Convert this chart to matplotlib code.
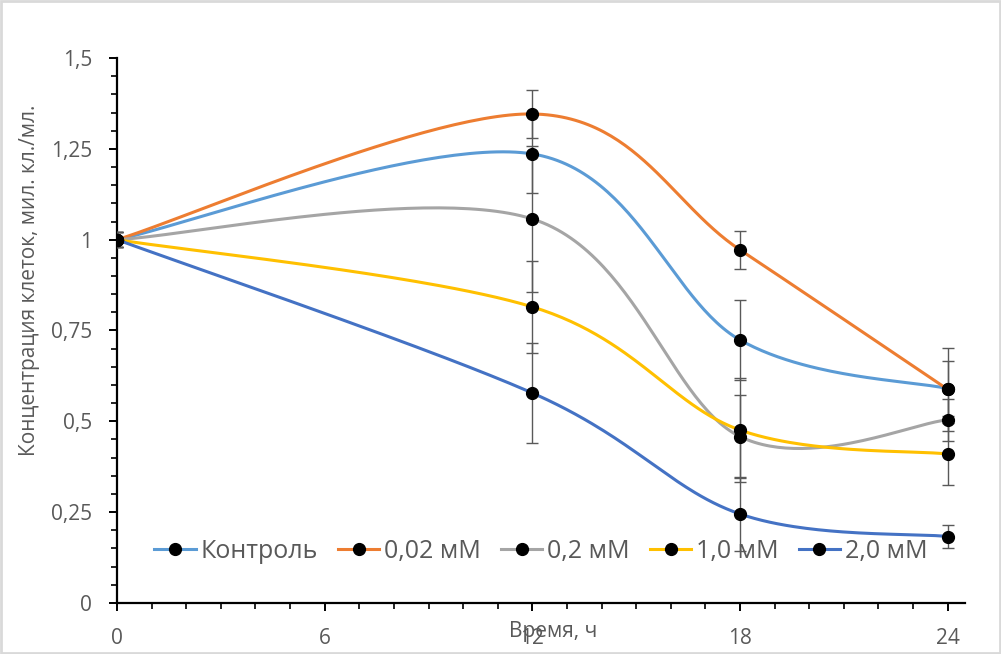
import numpy as np
import matplotlib
matplotlib.use("Agg")
import matplotlib.pyplot as plt
from matplotlib.ticker import MultipleLocator, FuncFormatter
from matplotlib.patches import Rectangle

plt.rcParams['font.family'] = ['Open Sans', 'DejaVu Sans']

# data
hours = [0, 12, 18, 24]
labels = ['Контроль', '0,02 мМ', '0,2 мМ', '1,0 мМ', '2,0 мМ']
control = [1.0, 1.236, 0.724, 0.590]
c002 = [1.0, 1.346, 0.972, 0.588]
c02 = [1.0, 1.057, 0.458, 0.504]
c10 = [1.0, 0.815, 0.476, 0.410]
c20 = [1.0, 0.578, 0.245, 0.183]
err_control = [0.02, 0.108, 0.110, 0.075]
err_c002 = [0.02, 0.065, 0.053, 0.115]
err_c02 = [0.02, 0.200, 0.115, 0.057]
err_c10 = [0.02, 0.127, 0.142, 0.086]
err_c20 = [0.02, 0.137, 0.102, 0.031]

series = [control, c002, c02, c10, c20]
errors = [err_control, err_c002, err_c02, err_c10, err_c20]
colors = ['#5B9BD5', '#ED7D31', '#A5A5A5', '#FFC000', '#4472C4']

TXT = '#595959'


def smooth(xs, ys, n=60):
    # excel-like smoothed line: bezier segments, catmull-rom control points
    pts = np.column_stack([xs, ys]).astype(float)
    out = []
    for i in range(len(pts) - 1):
        p0 = pts[max(i - 1, 0)]
        p1 = pts[i]
        p2 = pts[i + 1]
        p3 = pts[min(i + 2, len(pts) - 1)]
        c1 = p1 + (p2 - p0) / 6.0
        c2 = p2 - (p3 - p1) / 6.0
        t = np.linspace(0, 1, n)[:, None]
        seg = ((1 - t) ** 3) * p1 + 3 * ((1 - t) ** 2) * t * c1 \
            + 3 * (1 - t) * t ** 2 * c2 + t ** 3 * p2
        out.append(seg if i == 0 else seg[1:])
    out = np.vstack(out)
    return out[:, 0], out[:, 1]


fig = plt.figure(figsize=(10.01, 6.54), dpi=100)
ax = fig.add_axes([0.1169, 0.078, 0.8471, 0.8333])

handles = []
for ys, es, col, lab in zip(series, errors, colors, labels):
    sx, sy = smooth(hours, ys)
    ax.plot(sx, sy, color=col, lw=2.2, zorder=2, solid_capstyle='round')
    ax.errorbar(hours, ys, yerr=es, fmt='none', ecolor='#595959',
                elinewidth=1.0, capsize=4.5, capthick=1.0, zorder=3)
    ax.plot(hours, ys, 'o', color='black', ms=8.5, zorder=4)
    h, = ax.plot([], [], color=col, lw=2.2, marker='o', mfc='black',
                 mec='black', ms=8.5)
    handles.append(h)

ax.set_xlim(0, 24.5)
ax.set_ylim(0, 1.5)
ax.xaxis.set_major_locator(MultipleLocator(6))
ax.xaxis.set_minor_locator(MultipleLocator(1))
ax.yaxis.set_major_locator(MultipleLocator(0.25))
ax.yaxis.set_minor_locator(MultipleLocator(0.05))
ax.yaxis.set_major_formatter(FuncFormatter(lambda v, p: ('%g' % v).replace('.', ',')))

for s in ['top', 'right']:
    ax.spines[s].set_visible(False)
for s in ['left', 'bottom']:
    ax.spines[s].set_linewidth(1.6)
    ax.spines[s].set_color('black')

ax.tick_params(which='major', direction='out', length=6, width=1.4,
               color='black', labelcolor=TXT, labelsize=15)
ax.tick_params(which='minor', direction='out', length=4, width=1.2, color='black')
ax.tick_params(axis='y', which='major', pad=12)
ax.tick_params(axis='x', which='major', pad=12)

fig.text(30 / 1001, 1 - 280 / 654, 'Концентрация клеток, мил. кл./мл.',
         rotation=90, ha='center', va='center', color=TXT, fontsize=15)
fig.text(553 / 1001, 1 - 632 / 654, 'Время, ч', ha='center', va='center',
         color=TXT, fontsize=15)

leg = ax.legend(handles, labels, loc='center', bbox_to_anchor=(0.5, 0.095),
                ncol=5, frameon=False, fontsize=18, handlelength=1.65,
                handletextpad=0.2, columnspacing=0.8, borderaxespad=0)
for t in leg.get_texts():
    t.set_color(TXT)

fig.patches.append(Rectangle((0.001, 0.0015), 0.998, 0.997, transform=fig.transFigure,
                             fill=False, edgecolor='#D9D9D9', lw=2))

fig.savefig('out.png', dpi=100)
